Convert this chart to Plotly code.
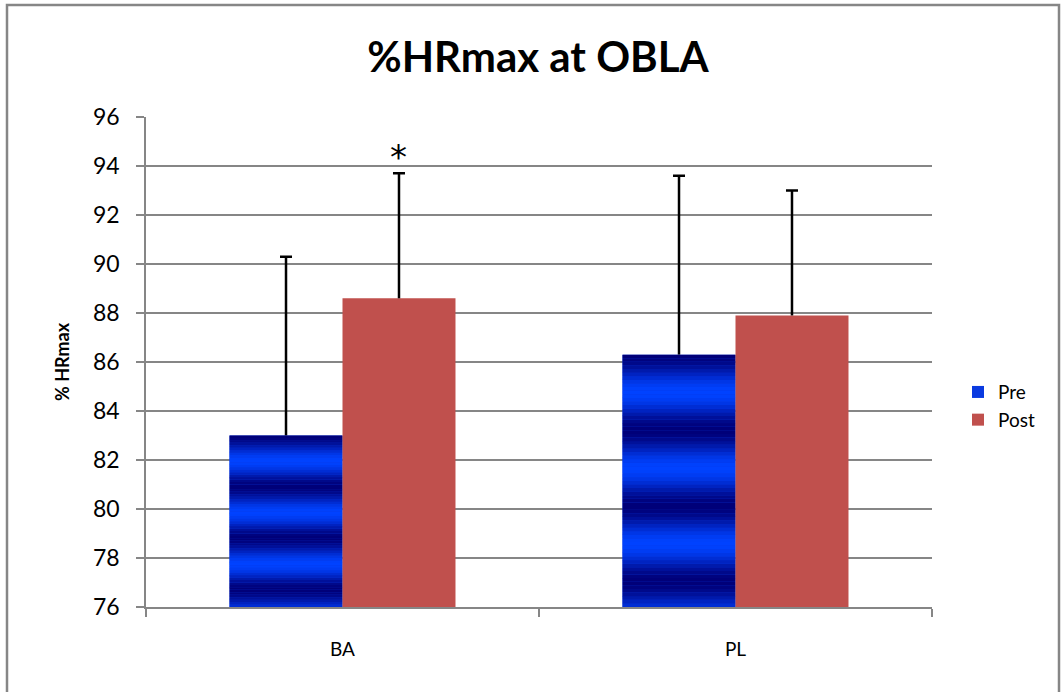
import plotly.graph_objects as go
import math

categories = ["BA", "PL"]
pre_values = [83.0, 86.3]
post_values = [88.6, 87.9]
pre_sd = [7.3, 7.3]
post_sd = [5.1, 5.1]
tick_vals = [76, 78, 80, 82, 84, 86, 88, 90, 92, 94, 96]
y_min, y_max = 76, 96

W, H = 1061, 692
L, R, T, B = 146, 129, 117, 85
pw, ph = W - L - R, H - T - B

fig = go.Figure()

# Pre trace (legend + whisker line, no caps)
fig.add_trace(go.Bar(
    name="Pre", x=categories, y=pre_values, offsetgroup="pre",
    marker=dict(color="#0a3ae0", line=dict(width=0)),
    error_y=dict(type="data", symmetric=False, array=pre_sd, arrayminus=[0, 0],
                 color="black", thickness=2.5, width=0),
    hoverinfo="skip",
))

# gradient bands on Pre bars (computed from each bar's height)
N = 70
dark = (0, 0, 120)
bright = (0, 66, 255)
for i in range(N):
    f0 = i / N
    fm = (i + 0.5) / N
    t = 1 - fm  # fraction from top
    k = (1 - math.cos(2 * math.pi * t / 0.3)) / 2
    col = "rgb({},{},{})".format(*[round(d + (b - d) * k) for d, b in zip(dark, bright)])
    heights = [(v - y_min) / N for v in pre_values]
    bases = [y_min + f0 * (v - y_min) for v in pre_values]
    fig.add_trace(go.Bar(
        x=categories, y=[h * 1.02 if i < N - 1 else h for h in heights], base=bases,
        offsetgroup="pre",
        marker=dict(color=col, line=dict(width=0)), showlegend=False, hoverinfo="skip",
    ))

fig.add_trace(go.Bar(
    name="Post", x=categories, y=post_values, offsetgroup="post",
    marker=dict(color="#C0504D", line=dict(width=0)),
    error_y=dict(type="data", symmetric=False, array=post_sd, arrayminus=[0, 0],
                 color="black", thickness=2.5, width=0),
    hoverinfo="skip",
))

# caps at the top of each whisker (transparent carrier bars)
for vals, sds, grp in [(pre_values, pre_sd, "pre"), (post_values, post_sd, "post")]:
    fig.add_trace(go.Bar(
        x=categories, y=[v + s for v, s in zip(vals, sds)], offsetgroup=grp,
        marker=dict(color="rgba(0,0,0,0)", line=dict(width=0)), showlegend=False,
        error_y=dict(type="data", array=[0, 0], color="black", thickness=2.5, width=6),
        hoverinfo="skip",
    ))

axis_gray = "rgb(134,134,134)"
font = "Lato, 'DejaVu Sans', sans-serif"

fig.update_layout(
    width=W, height=H,
    margin=dict(l=L, r=R, t=T, b=B),
    paper_bgcolor="white", plot_bgcolor="white",
    barmode="group", bargap=0.425, bargroupgap=0,
    font=dict(family=font, color="black"),
    title=dict(text="<b>%HRmax at OBLA</b>", x=538 / W, xanchor="center",
               y=1 - 57 / H, yanchor="middle", font=dict(size=42, family=font)),
    legend=dict(x=(958 - L) / pw, xanchor="left", y=0.41, yanchor="middle",
                font=dict(size=19), bgcolor="rgba(0,0,0,0)", tracegroupgap=0,
                itemwidth=30),
    showlegend=True,
    xaxis=dict(showline=True, linecolor=axis_gray, linewidth=1.5,
               ticks="outside", tickson="boundaries", ticklen=8, tickcolor=axis_gray,
               tickwidth=1.5, tickfont=dict(size=19), ticklabelstandoff=24,
               showgrid=False),
    yaxis=dict(range=[y_min, y_max], tickvals=tick_vals, showline=True, linecolor=axis_gray,
               linewidth=1.5, ticks="outside", ticklen=8, tickcolor=axis_gray, tickwidth=1.5,
               showgrid=True, gridcolor=axis_gray, gridwidth=1.5, tickfont=dict(size=23),
               ticklabelstandoff=12, zeroline=False),
)

fig.add_annotation(text="<b>% HRmax</b>", textangle=-90, xref="paper", yref="paper",
                   x=(62 - L) / pw, y=0.5, showarrow=False, font=dict(size=18),
                   xanchor="center", yanchor="middle")

fig.add_annotation(text="*", x=categories[0], y=post_values[0] + post_sd[0], xref="x", yref="y",
                   xshift=56, yanchor="bottom", yshift=-6, showarrow=False,
                   font=dict(size=34, family="DejaVu Sans"))

fig.add_shape(type="rect", xref="paper", yref="paper",
              x0=(7 - L) / pw, x1=(1059 - L) / pw,
              y0=-(B + 10) / ph, y1=(H - B - 5) / ph,
              line=dict(color=axis_gray, width=2.5), fillcolor="rgba(0,0,0,0)", layer="below")

fig.write_html("out.html", post_script="document.body.style.margin='0';",
               config={"displayModeBar": False})
